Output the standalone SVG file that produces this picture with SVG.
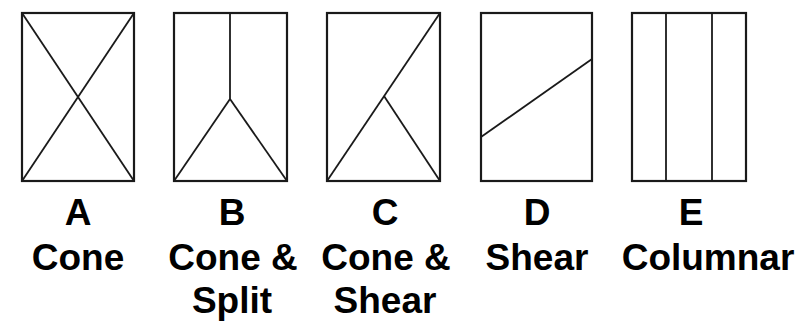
<svg xmlns="http://www.w3.org/2000/svg" width="812" height="321" viewBox="0 0 812 321">
<style>
.box{fill:none;stroke:#1a1a1a;stroke-width:2.2}
.ln{fill:none;stroke:#1a1a1a;stroke-width:1.8}
.t{font-family:"Liberation Sans",Arial,sans-serif;font-weight:bold;font-size:37px;fill:#000;text-anchor:middle}
</style>
<rect width="812" height="321" fill="#fff"/>
<g id="A">
<rect class="box" x="22" y="13" width="112" height="168"/>
<g class="ln"><line x1="22" y1="13" x2="134" y2="181"/><line x1="134" y1="13" x2="22" y2="181"/></g>
<text class="t" x="78" y="225">A</text>
<text class="t" x="78" y="270">Cone</text>
</g>
<g id="B">
<rect class="box" x="174" y="13" width="113" height="168"/>
<g class="ln"><line x1="230" y1="13" x2="230" y2="99"/><line x1="230" y1="99" x2="174" y2="181"/><line x1="230" y1="99" x2="287" y2="181"/></g>
<text class="t" x="232" y="225">B</text>
<text class="t" x="233" y="270">Cone &amp;</text>
<text class="t" x="232" y="313">Split</text>
</g>
<g id="C">
<rect class="box" x="327" y="13" width="113" height="168"/>
<g class="ln"><line x1="327" y1="181" x2="440" y2="13"/><line x1="384" y1="96" x2="440" y2="181"/></g>
<text class="t" x="385" y="225">C</text>
<text class="t" x="386" y="270">Cone &amp;</text>
<text class="t" x="385" y="313">Shear</text>
</g>
<g id="D">
<rect class="box" x="481" y="13" width="111" height="168"/>
<line class="ln" x1="481" y1="137" x2="592" y2="59"/>
<text class="t" x="537" y="225">D</text>
<text class="t" x="537" y="270">Shear</text>
</g>
<g id="E">
<rect class="box" x="632" y="13" width="114" height="168"/>
<g class="ln"><line x1="666" y1="13" x2="666" y2="181"/><line x1="712" y1="13" x2="712" y2="181"/></g>
<text class="t" x="691" y="225">E</text>
<text class="t" x="708" y="270">Columnar</text>
</g>
<g id="connectors"/>
</svg>
